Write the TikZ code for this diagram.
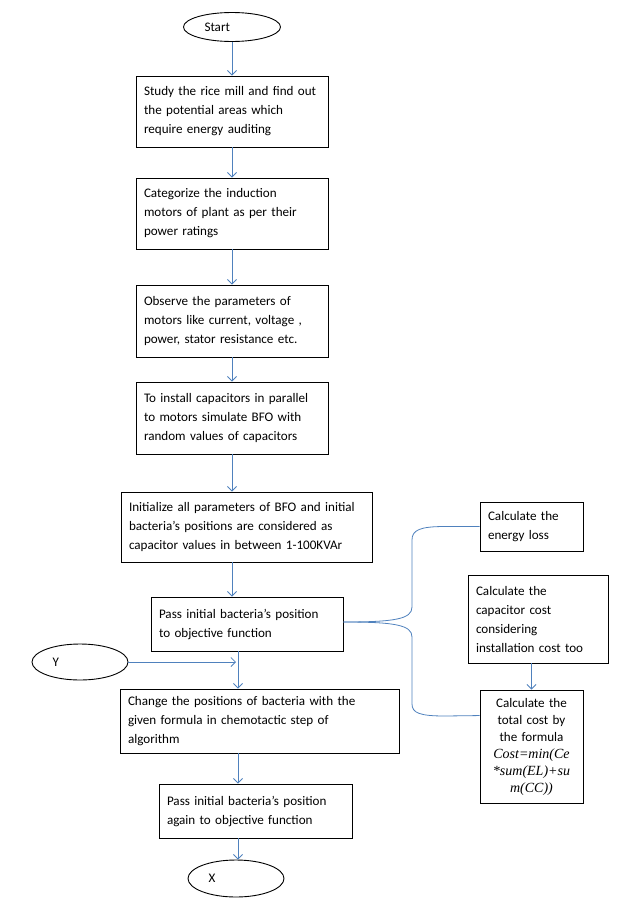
\documentclass[tikz,border=0pt]{standalone}
\usepackage{fontspec}
\setmainfont{Carlito}
\newfontfamily\formulafont{Liberation Serif}
\usetikzlibrary{shapes.geometric,arrows.meta}
\definecolor{wordblue}{RGB}{79,129,189}

\begin{document}
\begin{tikzpicture}[x=1pt,y=-1pt,
  stepbox/.style={draw,line width=0.9pt,inner xsep=8pt,inner ysep=0pt,align=left,
                  font=\fontsize{13.1}{19}\selectfont},
  oval/.style={draw,ellipse,line width=0.9pt,inner sep=0pt,text width=55pt,align=left,
               font=\fontsize{13.1}{19}\selectfont},
  flow/.style={draw=wordblue,line width=0.8pt,-{Straight Barb[length=4.5pt,width=9pt]}},
  brace/.style={draw=wordblue,line width=0.8pt}]
\useasboundingbox (0,0) rectangle (619,905);

%% main column
\node[oval,minimum width=97pt,minimum height=29pt] (start) at (232,27) {Start};
\node[stepbox,minimum width=192pt,minimum height=71pt,text width=176pt] (b1) at (232,111.5)
  {Study the rice mill and find out\\the potential areas which\\require energy auditing};
\node[stepbox,minimum width=192pt,minimum height=71pt,text width=176pt] (b2) at (232,213.5)
  {Categorize the induction\\motors of plant as per their\\power ratings};
\node[stepbox,minimum width=192pt,minimum height=72pt,text width=176pt] (b3) at (232,321)
  {Observe the parameters of\\motors like current, voltage ,\\power, stator resistance etc.};
\node[stepbox,minimum width=192pt,minimum height=72pt,text width=176pt] (b4) at (232,418)
  {To install capacitors in parallel\\to motors simulate BFO with\\random values of capacitors};
\node[stepbox,minimum width=251pt,minimum height=70pt,text width=235pt] (b5) at (246.5,527)
  {Initialize all parameters of BFO and initial\\bacteria’s positions are considered as\\capacitor values in between 1-100KVAr};
\node[stepbox,minimum width=192pt,minimum height=54pt,text width=176pt] (b6) at (247,624)
  {Pass initial bacteria’s position\\to objective function};
\node[stepbox,minimum width=279pt,minimum height=64pt,text width=263pt] (b7) at (259.5,721)
  {Change the positions of bacteria with the\\given formula in chemotactic step of\\algorithm};
\node[stepbox,minimum width=193pt,minimum height=54pt,text width=177pt] (b8) at (255.5,811)
  {Pass initial bacteria’s position\\again to objective function};
\node[oval,minimum width=96pt,minimum height=37pt] (X) at (236,878.5) {X};
\node[oval,minimum width=96pt,minimum height=36pt] (Y) at (80,662) {Y};

%% cost side
\node[stepbox,minimum width=103pt,minimum height=49pt,text width=87pt] (loss) at (531.5,526.5)
  {Calculate the\\energy loss};
\node[stepbox,minimum width=140pt,minimum height=88pt,text width=124pt] (capcost) at (538,619)
  {Calculate the\\capacitor cost\\considering\\installation cost too};
\node[stepbox,minimum width=103pt,minimum height=113pt,text width=87pt,align=center,
      font=\fontsize{13.1}{17}\selectfont] (total) at (531.5,746.5)
  {Calculate the\\total cost by\\the formula\\
   {\formulafont\itshape\fontsize{14}{17}\selectfont Cost=min(Ce}\\
   {\formulafont\itshape\fontsize{14}{17}\selectfont *sum(EL)+su}\\
   {\formulafont\itshape\fontsize{14}{17}\selectfont m(CC))}};

%% arrows
\coordinate (axis) at (238,0);
\draw[flow] (start) -- (b1);
\draw[flow] (b1) -- (b2);
\draw[flow] (b2) -- (b3);
\draw[flow] (b3) -- (b4);
\draw[flow] (b4.south) -- (b4.south |- b5.north);
\draw[flow] (b4.south |- b5.south) -- (b4.south |- b6.north);
\draw[flow] (b6.south -| axis) -- (b7.north -| axis);
\draw[flow] (b7.south -| axis) -- (b8.north -| axis);
\draw[flow] (b8.south -| axis) -- (X.north -| axis);
\draw[flow,shorten >=2pt] (Y.east) -- (Y.east -| axis);
\draw[flow] (total.north |- capcost.south) -- (total.north);

%% brace to the cost boxes
\coordinate (tin) at ([yshift=-26pt]total.north west);
\draw[brace] ([yshift=2pt]b6.east) .. controls (395,622) and (412,619) .. (412,607) -- (412,540)
  .. controls (412,530) and (420,526.5) .. (445,526.5) -- (loss.west);
\draw[brace] ([yshift=2pt]b6.east) .. controls (395,622) and (412,625) .. (412,637) -- (412,704)
  .. controls (412,713) and (420,716) .. (445,716) -- (tin);
\end{tikzpicture}
\end{document}
